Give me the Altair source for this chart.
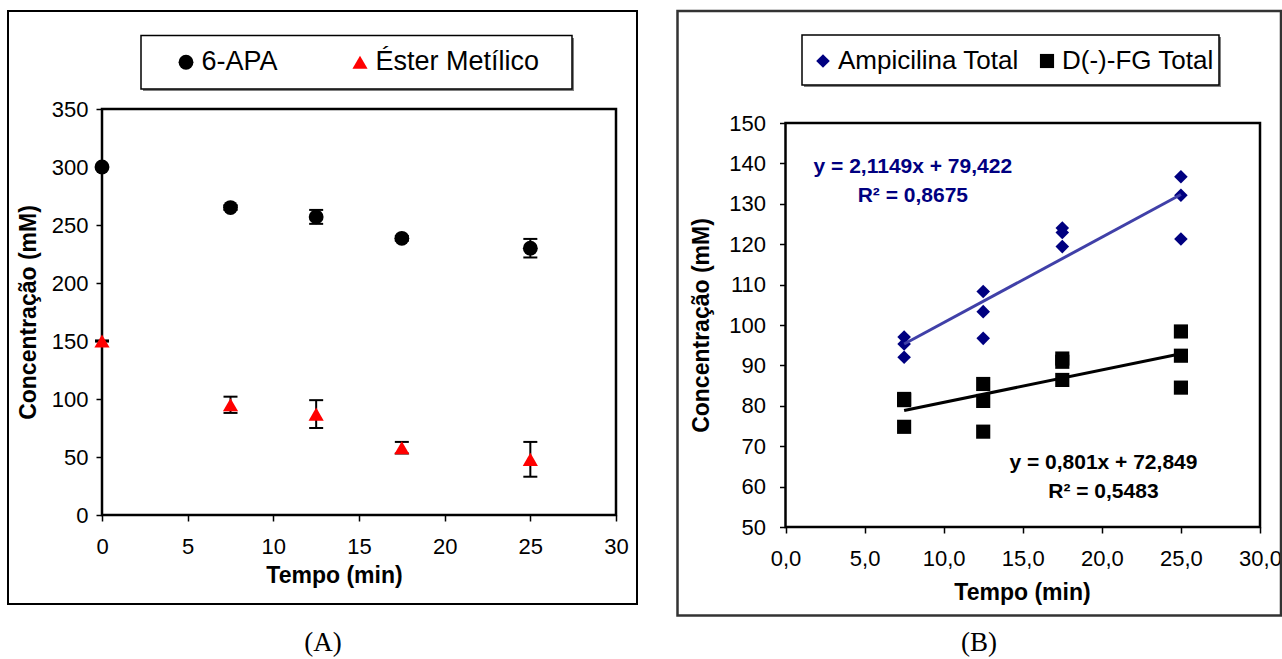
import altair as alt
import pandas as pd

# Painel (A): consumo dos substratos (média ± desvio padrão)
tempo_a = [0, 7.5, 12.5, 17.5, 25]
apa_media = [300, 265, 257, 238.5, 230]
apa_desvio = [0.5, 2, 6, 2, 8]
ester_media = [150, 95, 87, 58, 48]
ester_desvio = [0.5, 7, 12, 5, 15]
series_a = ["6-APA", "Éster Metílico"]

# Painel (B): produtos totais, três réplicas por tempo
tempo_b = [7.5, 7.5, 7.5, 12.5, 12.5, 12.5, 17.5, 17.5, 17.5, 25, 25, 25]
ampicilina_total = [97.0, 95.3, 92.0, 108.3, 103.3, 96.7, 124.0, 122.9, 119.4, 136.7, 132.1, 121.3]
fg_total = [81.7, 81.4, 74.8, 85.4, 81.2, 73.6, 91.7, 90.9, 86.4, 98.4, 92.4, 84.5]
series_b = ["Ampicilina Total", "D(-)-FG Total"]

# Linhas de tendência lineares y = a·x + b, com R²
tend_a = [2.1149, 0.801]
tend_b = [79.422, 72.849]
tend_r2 = [0.8675, 0.5483]
tend_faixa = [7.5, 25]

ticks_xa = [0, 5, 10, 15, 20, 25, 30]
ticks_ya = [0, 50, 100, 150, 200, 250, 300, 350]
ticks_xb = [0, 5, 10, 15, 20, 25, 30]
ticks_yb = [50, 60, 70, 80, 90, 100, 110, 120, 130, 140, 150]

W, H = 1282, 659
SANS = "Liberation Sans"
SERIF = "Liberation Serif"
AZUL_MARCA = "#000080"
AZUL_LINHA = "#4040a8"

# áreas de plotagem em pixels
xa_px = [102, 616]
ya_px = [515, 109]
xb_px = [785.5, 1260]
yb_px = [527, 123]


def decimal_br(v):
    return str(v).replace(".", ",")


def esc(dom, rng):
    return alt.Scale(domain=dom, range=rng, nice=False, zero=False)


esc_xa = esc([0, 30], xa_px)
esc_ya = esc([0, 350], ya_px)
esc_xb = esc([0, 30], xb_px)
esc_yb = esc([50, 150], yb_px)

eixo_comum = dict(
    domain=False, grid=False, tickSize=6, tickWidth=1.5, tickColor="black",
    labelFont=SANS, labelFontSize=22, labelColor="black",
    labelFlush=False, labelOverlap=False,
    titleFont=SANS, titleFontSize=23, titleFontWeight="bold", titleColor="black",
    titleAlign="center", titleBaseline="middle",
)

eixo_xa = alt.Axis(orient="bottom", offset=ya_px[0] - H, values=ticks_xa, labelPadding=15,
                   title="Tempo (min)", titleAngle=0, titleX=334, titleY=60, **eixo_comum)
eixo_ya = alt.Axis(orient="left", offset=-xa_px[0], values=ticks_ya, labelPadding=8,
                   title="Concentração (mM)", titleAngle=270, titleX=28 - xa_px[0], titleY=312,
                   **eixo_comum)
eixo_xb = alt.Axis(orient="bottom", offset=yb_px[0] - H, values=ticks_xb, labelPadding=15,
                   labelExpr="replace(format(datum.value, '.1f'), '.', ',')",
                   title="Tempo (min)", titleAngle=0, titleX=1022, titleY=65, **eixo_comum)
eixo_yb = alt.Axis(orient="left", offset=-xb_px[0], values=ticks_yb, labelPadding=14,
                   title="Concentração (mM)", titleAngle=270, titleX=701 - xb_px[0], titleY=325,
                   **eixo_comum)

legenda_comum = dict(
    title=None, orient="none", direction="horizontal", padding=0, zindex=1, labelLimit=0,
    labelFont=SANS, labelColor="black", symbolStrokeWidth=0, symbolOpacity=1,
)
leg_a = alt.Legend(legendX=172.5, legendY=48.5, labelOffset=2, columnPadding=68,
                   symbolSize=225, labelFontSize=27, **legenda_comum)
leg_b = alt.Legend(legendX=810, legendY=48, labelOffset=2, columnPadding=15,
                   symbolSize=150, labelFontSize=26, **legenda_comum)

um = pd.DataFrame({"k": [0]})
camadas = []


# ---------- molduras e caixas de legenda ----------
def retangulo(x0, y0, x1, y1, **estilo):
    return alt.Chart(um).mark_rect(**estilo).encode(
        x=alt.value(x0), x2=alt.value(x1), y=alt.value(y0), y2=alt.value(y1)
    )


camadas += [
    retangulo(8, 11, 637, 604, fillOpacity=0, stroke="black", strokeWidth=2),
    retangulo(677.5, 11, 1281, 615.5, fillOpacity=0, stroke="#333333", strokeWidth=2.5),
    retangulo(143, 38, 574, 91, fill="#808080"),
    retangulo(141, 35.5, 572, 89, fill="white", stroke="black", strokeWidth=1.5),
    retangulo(804, 37, 1221, 87, fill="#808080"),
    retangulo(802, 35, 1219, 85, fill="white", stroke="black", strokeWidth=1.5),
]


def borda(ex, ey, x0, x1, y0, y1):
    return alt.Chart(um).mark_rect(fillOpacity=0, stroke="black", strokeWidth=2.5).encode(
        x=alt.XDatum(x0, type="quantitative", scale=ex, axis=None), x2=alt.datum(x1),
        y=alt.YDatum(y0, type="quantitative", scale=ey, axis=None), y2=alt.datum(y1),
    )


# ---------- painel A ----------
df_a = pd.DataFrame({
    "t": tempo_a * 2,
    "c": apa_media + ester_media,
    "dp": apa_desvio + ester_desvio,
    "serie": [series_a[0]] * len(tempo_a) + [series_a[1]] * len(tempo_a),
})
df_a["lo"] = df_a["c"] - df_a["dp"]
df_a["hi"] = df_a["c"] + df_a["dp"]
base_a = alt.Chart(df_a)

camadas.append(borda(esc_xa, esc_ya, 0, 30, 0, 350))
camadas.append(base_a.mark_rule(color="black", strokeWidth=2).encode(
    x=alt.X("t:Q", scale=esc_xa, axis=None),
    y=alt.Y("lo:Q", scale=esc_ya, axis=None), y2="hi:Q",
))
for campo in ["hi", "lo"]:
    camadas.append(base_a.mark_tick(color="black", orient="horizontal", size=14,
                                    thickness=2, opacity=1).encode(
        x=alt.X("t:Q", scale=esc_xa, axis=None),
        y=alt.Y(f"{campo}:Q", scale=esc_ya, axis=None),
    ))
camadas.append(base_a.mark_point(filled=True, opacity=1).encode(
    x=alt.X("t:Q", scale=esc_xa, axis=eixo_xa),
    y=alt.Y("c:Q", scale=esc_ya, axis=eixo_ya),
    color=alt.Color("serie:N", scale=alt.Scale(domain=series_a, range=["black", "red"]), legend=leg_a),
    shape=alt.Shape("serie:N", scale=alt.Scale(domain=series_a, range=["circle", "triangle-up"]), legend=leg_a),
    size=alt.Size("serie:N", scale=alt.Scale(domain=series_a, range=[220, 230]), legend=None),
))

# ---------- painel B ----------
df_b = pd.DataFrame({
    "t": tempo_b * 2,
    "c": ampicilina_total + fg_total,
    "serie": [series_b[0]] * len(tempo_b) + [series_b[1]] * len(tempo_b),
})
df_tend = pd.DataFrame({
    "t": tend_faixa * 2,
    "c": [tend_a[i] * x + tend_b[i] for i in range(2) for x in tend_faixa],
    "serie": [s for s in series_b for _ in tend_faixa],
})
df_eq = pd.DataFrame({
    "serie": series_b,
    "rotulo": [f"y = {decimal_br(tend_a[i])}x + {decimal_br(tend_b[i])}\nR\u00b2 = {decimal_br(tend_r2[i])}"
               for i in range(2)],
})

camadas.append(borda(esc_xb, esc_yb, 0, 30, 50, 150))
camadas.append(alt.Chart(df_b).mark_point(filled=True, opacity=1).encode(
    x=alt.X("t:Q", scale=esc_xb, axis=eixo_xb),
    y=alt.Y("c:Q", scale=esc_yb, axis=eixo_yb),
    color=alt.Color("serie:N", scale=alt.Scale(domain=series_b, range=[AZUL_MARCA, "black"]), legend=leg_b),
    shape=alt.Shape("serie:N", scale=alt.Scale(domain=series_b, range=["diamond", "square"]), legend=leg_b),
    size=alt.Size("serie:N", scale=alt.Scale(domain=series_b, range=[185, 200]), legend=None),
))
for serie, cor in zip(series_b, [AZUL_LINHA, "black"]):
    camadas.append(alt.Chart(df_tend).transform_filter(alt.datum.serie == serie).mark_line(
        color=cor, strokeWidth=3
    ).encode(
        x=alt.X("t:Q", scale=esc_xb, axis=None),
        y=alt.Y("c:Q", scale=esc_yb, axis=None),
    ))

# equações posicionadas pela primeira linha (x, y em unidades dos eixos)
for serie, cor, (tx, ty) in zip(series_b, [AZUL_MARCA, "black"], [(8.05, 139.1), (20.1, 65.8)]):
    camadas.append(alt.Chart(df_eq).transform_filter(alt.datum.serie == serie).mark_text(
        font=SANS, fontSize=21, fontWeight="bold", color=cor, align="center",
        baseline="middle", lineBreak="\n", lineHeight=29,
    ).encode(
        x=alt.XDatum(tx, type="quantitative", scale=esc_xb, axis=None),
        y=alt.YDatum(ty, type="quantitative", scale=esc_yb, axis=None),
        text="rotulo:N",
    ))

# ---------- identificação dos painéis ----------
for rot, x in [("(A)", 323), ("(B)", 979)]:
    camadas.append(alt.Chart(um).mark_text(font=SERIF, fontSize=27, color="black",
                                           align="center", baseline="middle").encode(
        x=alt.value(x), y=alt.value(643), text=alt.value(rot)
    ))

chart = alt.layer(*camadas).resolve_scale(
    x="independent", y="independent", color="independent", shape="independent",
    size="independent",
).properties(
    width=W, height=H, padding=0, autosize=alt.AutoSizeParams(type="none"),
).configure_view(strokeOpacity=0)

chart.save("out.html", embed_options={"renderer": "svg", "actions": False})
